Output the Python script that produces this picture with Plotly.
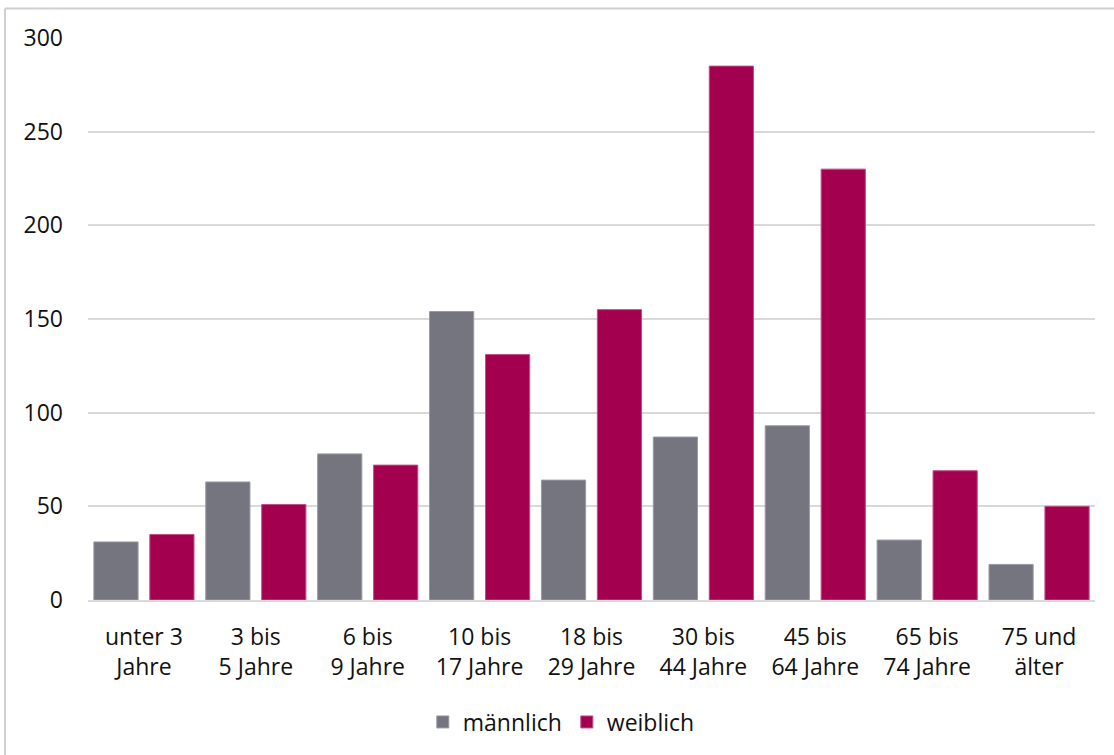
import plotly.graph_objects as go

categories = [
    "unter 3<br>Jahre",
    "3 bis<br>5 Jahre",
    "6 bis<br>9 Jahre",
    "10 bis<br>17 Jahre",
    "18 bis<br>29 Jahre",
    "30 bis<br>44 Jahre",
    "45 bis<br>64 Jahre",
    "65 bis<br>74 Jahre",
    "75 und<br>älter",
]
maennlich = [31, 63, 78, 154, 64, 87, 93, 32, 19]
weiblich = [35, 51, 72, 131, 155, 285, 230, 69, 50]
y_ticks = [0, 50, 100, 150, 200, 250, 300]

W, H = 1114, 755
L, R, T, B = 88, 19, 38, 155
pw, ph = W - L - R, H - T - B


def px_x(px):
    return (px - L) / pw


def px_y(py):
    return (H - B - py) / ph


fig = go.Figure()
fig.add_trace(
    go.Bar(
        x=categories,
        y=maennlich,
        name="männlich",
        marker=dict(color="#75757F", line=dict(color="#9a9aa3", width=1)),
    )
)
fig.add_trace(
    go.Bar(
        x=categories,
        y=weiblich,
        name="weiblich",
        marker=dict(color="#A3004F", line=dict(color="#c24d85", width=1)),
    )
)

# outer frame (top and left edges visible)
fig.add_shape(type="line", xref="paper", yref="paper",
              x0=px_x(5), x1=px_x(W + 5), y0=px_y(8.5), y1=px_y(8.5),
              line=dict(color="#D0D0D0", width=2))
fig.add_shape(type="line", xref="paper", yref="paper",
              x0=px_x(5), x1=px_x(5), y0=px_y(8.5), y1=px_y(H + 5),
              line=dict(color="#D0D0D0", width=2))

fig.update_layout(
    width=W,
    height=H,
    margin=dict(l=L, r=R, t=T, b=B),
    paper_bgcolor="white",
    plot_bgcolor="white",
    font=dict(family="Open Sans", size=23, color="#111111"),
    barmode="group",
    bargap=0.0,
    bargroupgap=0.21,
    showlegend=True,
    legend=dict(
        orientation="h",
        x=0.47,
        xanchor="center",
        y=px_y(722),
        yanchor="middle",
        font=dict(size=23),
        itemwidth=30,
    ),
    xaxis=dict(
        showgrid=False,
        showline=True,
        linecolor="#D9D9D9",
        linewidth=2,
        ticks="",
        tickfont=dict(size=23),
        ticklabelstandoff=15,
    ),
    yaxis=dict(
        range=[0, 300],
        tickvals=y_ticks,
        showgrid=True,
        gridcolor="#D9D9D9",
        gridwidth=1.5,
        zeroline=False,
        showline=False,
        ticks="",
        tickfont=dict(size=23),
        ticklabelstandoff=24,
    ),
)

fig.write_html(
    "out.html",
    config={"displayModeBar": False},
    post_script="document.body.style.margin='0';",
)
